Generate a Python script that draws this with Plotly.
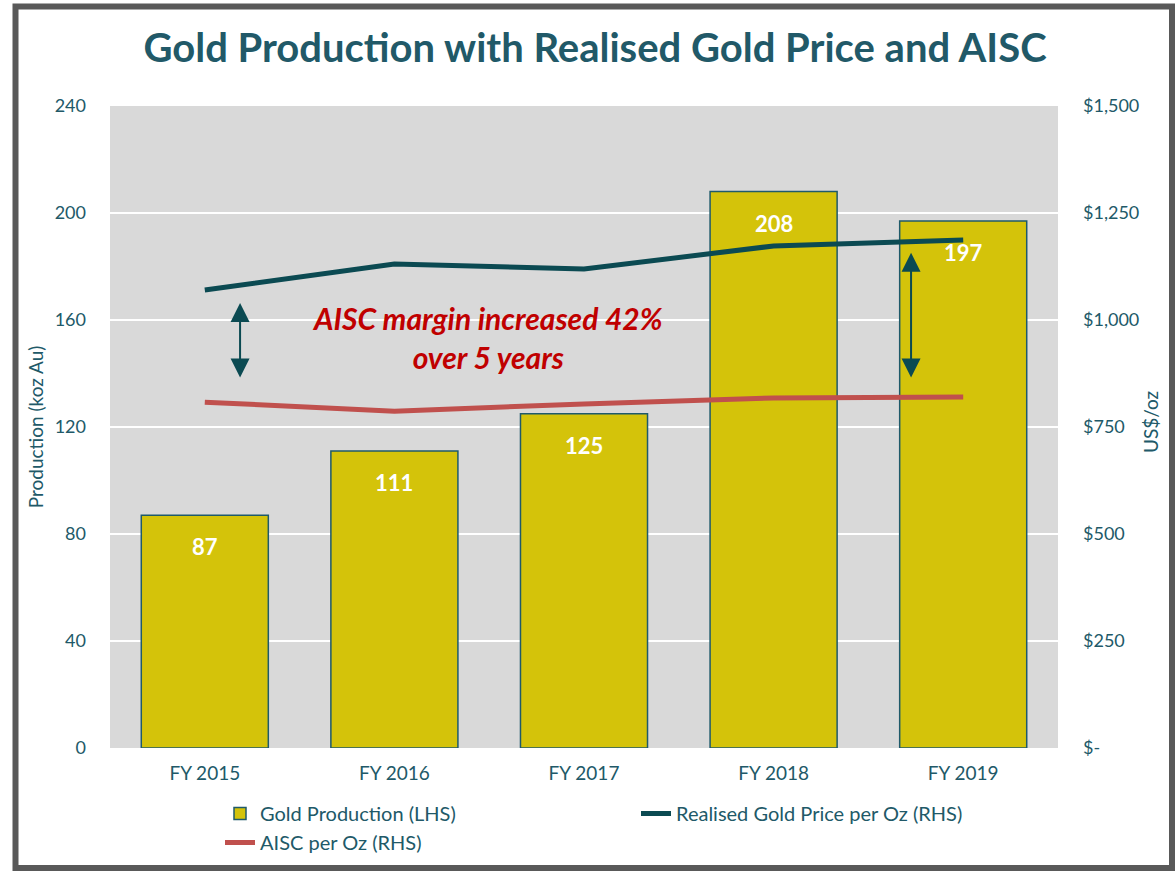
import plotly.graph_objects as go

categories = ["FY 2015", "FY 2016", "FY 2017", "FY 2018", "FY 2019"]
production = [87, 111, 125, 208, 197]
gold_price = [1070, 1131, 1119, 1173, 1187]
aisc = [808, 787, 804, 818, 820]
left_ticks = [0, 40, 80, 120, 160, 200, 240]
right_ticks = [0, 250, 500, 750, 1000, 1250, 1500]
right_ticklabels = ["$-", "$250", "$500", "$750", "$1,000", "$1,250", "$1,500"]

TEAL = "#215968"
FONT = "Lato"

W, H = 1175, 871
# plot area in screen pixels: x 110..1058, y 106..748
L, R, T, B = 110, W - 1058, 106, H - 748
pw, ph = W - L - R, H - T - B

def px_x(x):
    return (x - L) / pw

def px_y(y):
    return (H - B - y) / ph

fig = go.Figure()
fig.add_trace(go.Bar(
    x=categories, y=production, name="Gold Production (LHS)",
    marker=dict(color="#d4c30a", line=dict(color="#1f5a6a", width=1.5)),
    yaxis="y",
))
fig.add_trace(go.Scatter(
    x=categories, y=gold_price, name="Realised Gold Price per Oz (RHS)",
    mode="lines", line=dict(color="#0b4a52", width=5), yaxis="y2",
))
fig.add_trace(go.Scatter(
    x=categories, y=aisc, name="AISC per Oz (RHS)",
    mode="lines", line=dict(color="#c0504d", width=5), yaxis="y2",
))

annotations = []
for c, v in zip(categories, production):
    annotations.append(dict(
        x=c, y=v, xref="x", yref="y", text=f"<b>{v}</b>", showarrow=False,
        yanchor="top", yshift=-16, font=dict(family=FONT, size=22, color="white"),
    ))

# double-headed arrows showing margin
for xa, y_top, y_bot in [(0.186, 1040, 862), (3.725, 1157, 862)]:
    annotations.append(dict(
        x=xa, y=y_top, ax=xa, ay=y_bot, xref="x", yref="y2", axref="x", ayref="y2",
        showarrow=True, arrowhead=2, arrowside="end+start", arrowsize=1.9,
        arrowwidth=2.0, arrowcolor="#0b4a52", text="",
    ))

annotations.append(dict(
    x=1.49, y=958, xref="x", yref="y2",
    text="<b><i>AISC margin increased 42%<br>over 5 years</i></b>",
    showarrow=False, font=dict(family=FONT, size=30, color="#c00000"), align="center",
))

annotations.append(dict(
    x=px_x(1150), y=px_y(422), xref="paper", yref="paper", text="US$/oz",
    xanchor="center", yanchor="middle",
    textangle=-90, showarrow=False, font=dict(family=FONT, size=19, color=TEAL),
))

fig.update_layout(
    width=W, height=H,
    margin=dict(l=L, r=R, t=T, b=B, autoexpand=False),
    paper_bgcolor="white", plot_bgcolor="#d9d9d9",
    font=dict(family=FONT, color=TEAL),
    title=dict(
        text="<b>Gold Production with Realised Gold Price and AISC</b>",
        x=px_x(595), xref="paper", xanchor="center", y=1 - 48 / H, yanchor="middle",
        font=dict(family=FONT, size=40, color=TEAL),
    ),
    bargap=0.33,
    xaxis=dict(
        showgrid=False, tickfont=dict(size=19, color=TEAL), ticks="",
        showline=False, zeroline=False, ticklabelstandoff=12,
    ),
    yaxis=dict(
        range=[0, 240], tickvals=left_ticks, showgrid=True, gridcolor="white",
        gridwidth=2, zeroline=False, tickfont=dict(size=18, color=TEAL),
        ticklabelstandoff=23,
        title=dict(text="Production (koz Au)", font=dict(size=19, color=TEAL), standoff=6),
    ),
    yaxis2=dict(
        range=[0, 1500], tickvals=right_ticks, ticktext=right_ticklabels,
        overlaying="y", side="right", showgrid=False, zeroline=False,
        tickfont=dict(size=18, color=TEAL), ticklabelstandoff=24,
    ),
    legend=dict(
        orientation="h", x=px_x(220), y=px_y(794), xanchor="left", yanchor="top",
        font=dict(size=20, color=TEAL), entrywidth=371, entrywidthmode="pixels",
        traceorder="normal", bgcolor="rgba(0,0,0,0)",
    ),
    annotations=annotations,
    shapes=[dict(
        type="rect", xref="paper", yref="paper",
        x0=px_x(15.5), x1=px_x(1172), y0=px_y(6.5), y1=px_y(868),
        line=dict(color="#595959", width=6), fillcolor="rgba(0,0,0,0)", layer="above",
    )],
    showlegend=True,
)

fig.write_html(
    "out.html",
    config={"displayModeBar": False},
    post_script="document.body.style.margin='0';document.body.style.overflow='hidden';",
)
